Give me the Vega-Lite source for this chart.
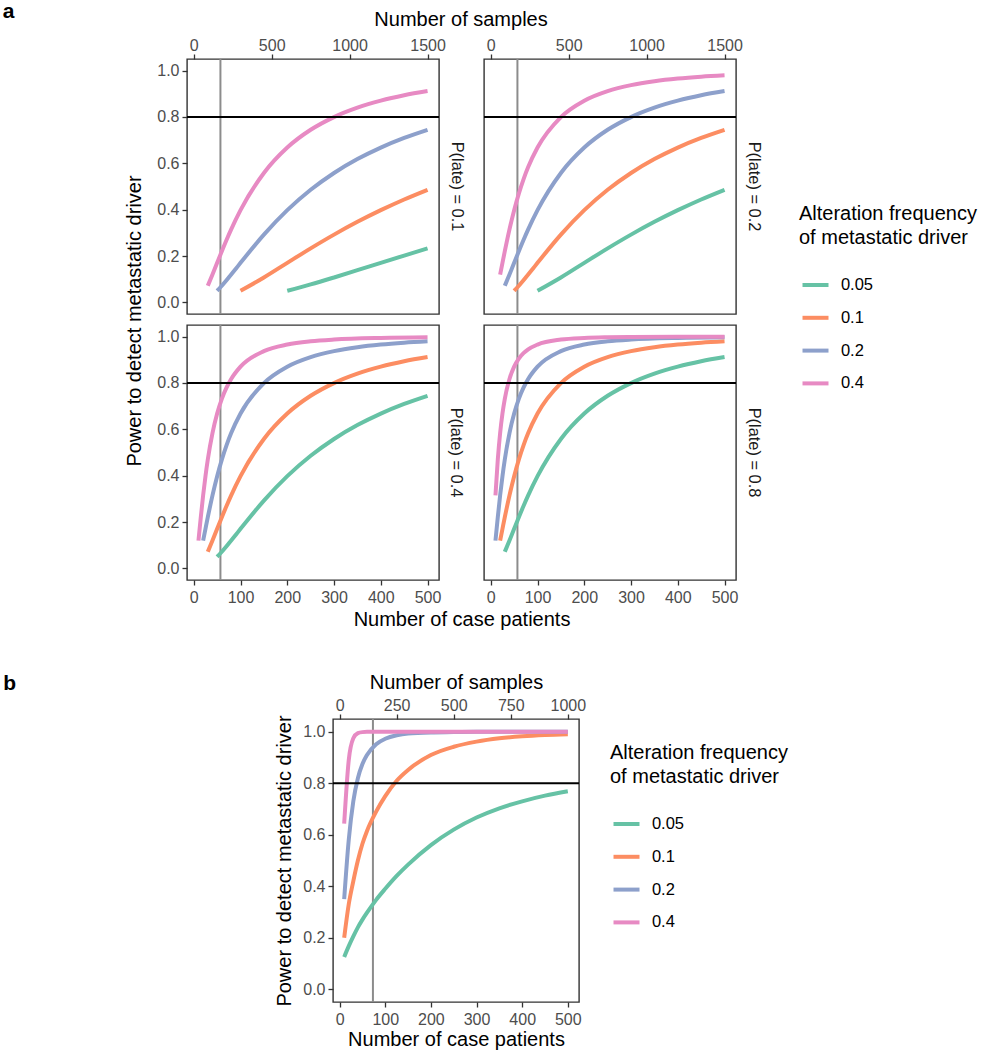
{
 "$schema": "https://vega.github.io/schema/vega-lite/v6.json",
 "background": "white",
 "padding": {"left": 2, "top": 0, "right": 10, "bottom": 2},
 "config": {
  "font": "Liberation Sans",
  "view": {"stroke": "#333333", "strokeWidth": 1.4},
  "axis": {"domain": false, "grid": false, "tickColor": "#333333", "tickWidth": 1.3, "tickSize": 5, "labelFontSize": 16, "labelColor": "#4d4d4d", "labelFont": "Liberation Sans", "labelFlush": false, "labelOverlap": false, "labelBound": false, "titleFont": "Liberation Sans", "titleFontSize": 20, "titleFontWeight": "normal", "titleColor": "#000000"},
  "axisTop": {"labelPadding": 1},
  "axisBottom": {"labelPadding": 4},
  "axisLeft": {"labelPadding": 3},
  "legend": {"titleFont": "Liberation Sans", "titleFontSize": 20, "titleFontWeight": "normal", "titleColor": "#000000", "titleLineHeight": 24, "titlePadding": 22, "labelFont": "Liberation Sans", "labelFontSize": 16.5, "labelColor": "#000000", "symbolType": "stroke", "symbolStrokeWidth": 4, "symbolSize": 676, "rowPadding": 8.8, "labelOffset": 10.4, "symbolOffset": 1.5},
  "title": {"font": "Liberation Sans", "color": "#000000", "fontWeight": "normal"},
  "line": {"strokeWidth": 4, "interpolate": "monotone", "strokeCap": "butt"}
 },
 "datasets": {
  "curves": [
   {"panel":"a0.1","freq":"0.05","n":200,"power":0.05},{"panel":"a0.1","freq":"0.05","n":250,"power":0.0775},{"panel":"a0.1","freq":"0.05","n":300,"power":0.1076},{"panel":"a0.1","freq":"0.05","n":350,"power":0.1389},{"panel":"a0.1","freq":"0.05","n":400,"power":0.1706},{"panel":"a0.1","freq":"0.05","n":450,"power":0.2021},{"panel":"a0.1","freq":"0.05","n":500,"power":0.2331},
   {"panel":"a0.1","freq":"0.1","n":100,"power":0.05},{"panel":"a0.1","freq":"0.1","n":150,"power":0.1076},{"panel":"a0.1","freq":"0.1","n":200,"power":0.1706},{"panel":"a0.1","freq":"0.1","n":250,"power":0.2331},{"panel":"a0.1","freq":"0.1","n":300,"power":0.2924},{"panel":"a0.1","freq":"0.1","n":350,"power":0.3475},{"panel":"a0.1","freq":"0.1","n":400,"power":0.3979},{"panel":"a0.1","freq":"0.1","n":450,"power":0.444},{"panel":"a0.1","freq":"0.1","n":500,"power":0.4858},
   {"panel":"a0.1","freq":"0.2","n":50,"power":0.05},{"panel":"a0.1","freq":"0.2","n":60,"power":0.0718},{"panel":"a0.1","freq":"0.2","n":70,"power":0.0954},{"panel":"a0.1","freq":"0.2","n":80,"power":0.12},{"panel":"a0.1","freq":"0.2","n":90,"power":0.1452},{"panel":"a0.1","freq":"0.2","n":100,"power":0.1706},{"panel":"a0.1","freq":"0.2","n":150,"power":0.2924},{"panel":"a0.1","freq":"0.2","n":200,"power":0.3979},{"panel":"a0.1","freq":"0.2","n":250,"power":0.4858},{"panel":"a0.1","freq":"0.2","n":300,"power":0.5584},{"panel":"a0.1","freq":"0.2","n":350,"power":0.6183},{"panel":"a0.1","freq":"0.2","n":400,"power":0.668},{"panel":"a0.1","freq":"0.2","n":450,"power":0.7096},{"panel":"a0.1","freq":"0.2","n":500,"power":0.7446},
   {"panel":"a0.1","freq":"0.4","n":30,"power":0.0718},{"panel":"a0.1","freq":"0.4","n":40,"power":0.12},{"panel":"a0.1","freq":"0.4","n":50,"power":0.1706},{"panel":"a0.1","freq":"0.4","n":60,"power":0.2208},{"panel":"a0.1","freq":"0.4","n":70,"power":0.2691},{"panel":"a0.1","freq":"0.4","n":80,"power":0.315},{"panel":"a0.1","freq":"0.4","n":100,"power":0.3979},{"panel":"a0.1","freq":"0.4","n":150,"power":0.5584},{"panel":"a0.1","freq":"0.4","n":200,"power":0.668},{"panel":"a0.1","freq":"0.4","n":250,"power":0.7446},{"panel":"a0.1","freq":"0.4","n":300,"power":0.7995},{"panel":"a0.1","freq":"0.4","n":350,"power":0.8399},{"panel":"a0.1","freq":"0.4","n":400,"power":0.8703},{"panel":"a0.1","freq":"0.4","n":450,"power":0.8935},{"panel":"a0.1","freq":"0.4","n":500,"power":0.9116},

   {"panel":"a0.2","freq":"0.05","n":100,"power":0.05},{"panel":"a0.2","freq":"0.05","n":150,"power":0.1076},{"panel":"a0.2","freq":"0.05","n":200,"power":0.1706},{"panel":"a0.2","freq":"0.05","n":250,"power":0.2331},{"panel":"a0.2","freq":"0.05","n":300,"power":0.2924},{"panel":"a0.2","freq":"0.05","n":350,"power":0.3475},{"panel":"a0.2","freq":"0.05","n":400,"power":0.3979},{"panel":"a0.2","freq":"0.05","n":450,"power":0.444},{"panel":"a0.2","freq":"0.05","n":500,"power":0.4858},
   {"panel":"a0.2","freq":"0.1","n":50,"power":0.05},{"panel":"a0.2","freq":"0.1","n":60,"power":0.0718},{"panel":"a0.2","freq":"0.1","n":70,"power":0.0954},{"panel":"a0.2","freq":"0.1","n":80,"power":0.12},{"panel":"a0.2","freq":"0.1","n":90,"power":0.1452},{"panel":"a0.2","freq":"0.1","n":100,"power":0.1706},{"panel":"a0.2","freq":"0.1","n":150,"power":0.2924},{"panel":"a0.2","freq":"0.1","n":200,"power":0.3979},{"panel":"a0.2","freq":"0.1","n":250,"power":0.4858},{"panel":"a0.2","freq":"0.1","n":300,"power":0.5584},{"panel":"a0.2","freq":"0.1","n":350,"power":0.6183},{"panel":"a0.2","freq":"0.1","n":400,"power":0.668},{"panel":"a0.2","freq":"0.1","n":450,"power":0.7096},{"panel":"a0.2","freq":"0.1","n":500,"power":0.7446},
   {"panel":"a0.2","freq":"0.2","n":30,"power":0.0718},{"panel":"a0.2","freq":"0.2","n":40,"power":0.12},{"panel":"a0.2","freq":"0.2","n":50,"power":0.1706},{"panel":"a0.2","freq":"0.2","n":60,"power":0.2208},{"panel":"a0.2","freq":"0.2","n":70,"power":0.2691},{"panel":"a0.2","freq":"0.2","n":80,"power":0.315},{"panel":"a0.2","freq":"0.2","n":100,"power":0.3979},{"panel":"a0.2","freq":"0.2","n":150,"power":0.5584},{"panel":"a0.2","freq":"0.2","n":200,"power":0.668},{"panel":"a0.2","freq":"0.2","n":250,"power":0.7446},{"panel":"a0.2","freq":"0.2","n":300,"power":0.7995},{"panel":"a0.2","freq":"0.2","n":350,"power":0.8399},{"panel":"a0.2","freq":"0.2","n":400,"power":0.8703},{"panel":"a0.2","freq":"0.2","n":450,"power":0.8935},{"panel":"a0.2","freq":"0.2","n":500,"power":0.9116},
   {"panel":"a0.2","freq":"0.4","n":20,"power":0.12},{"panel":"a0.2","freq":"0.4","n":25,"power":0.1706},{"panel":"a0.2","freq":"0.4","n":30,"power":0.2208},{"panel":"a0.2","freq":"0.4","n":40,"power":0.315},{"panel":"a0.2","freq":"0.4","n":50,"power":0.3979},{"panel":"a0.2","freq":"0.4","n":60,"power":0.4696},{"panel":"a0.2","freq":"0.4","n":70,"power":0.531},{"panel":"a0.2","freq":"0.4","n":80,"power":0.5837},{"panel":"a0.2","freq":"0.4","n":100,"power":0.668},{"panel":"a0.2","freq":"0.4","n":150,"power":0.7995},{"panel":"a0.2","freq":"0.4","n":200,"power":0.8703},{"panel":"a0.2","freq":"0.4","n":250,"power":0.9116},{"panel":"a0.2","freq":"0.4","n":300,"power":0.9374},{"panel":"a0.2","freq":"0.4","n":350,"power":0.9542},{"panel":"a0.2","freq":"0.4","n":400,"power":0.9657},{"panel":"a0.2","freq":"0.4","n":450,"power":0.9737},{"panel":"a0.2","freq":"0.4","n":500,"power":0.9795},

   {"panel":"a0.4","freq":"0.05","n":50,"power":0.05},{"panel":"a0.4","freq":"0.05","n":60,"power":0.0718},{"panel":"a0.4","freq":"0.05","n":70,"power":0.0954},{"panel":"a0.4","freq":"0.05","n":80,"power":0.12},{"panel":"a0.4","freq":"0.05","n":90,"power":0.1452},{"panel":"a0.4","freq":"0.05","n":100,"power":0.1706},{"panel":"a0.4","freq":"0.05","n":150,"power":0.2924},{"panel":"a0.4","freq":"0.05","n":200,"power":0.3979},{"panel":"a0.4","freq":"0.05","n":250,"power":0.4858},{"panel":"a0.4","freq":"0.05","n":300,"power":0.5584},{"panel":"a0.4","freq":"0.05","n":350,"power":0.6183},{"panel":"a0.4","freq":"0.05","n":400,"power":0.668},{"panel":"a0.4","freq":"0.05","n":450,"power":0.7096},{"panel":"a0.4","freq":"0.05","n":500,"power":0.7446},
   {"panel":"a0.4","freq":"0.1","n":30,"power":0.0718},{"panel":"a0.4","freq":"0.1","n":40,"power":0.12},{"panel":"a0.4","freq":"0.1","n":50,"power":0.1706},{"panel":"a0.4","freq":"0.1","n":60,"power":0.2208},{"panel":"a0.4","freq":"0.1","n":70,"power":0.2691},{"panel":"a0.4","freq":"0.1","n":80,"power":0.315},{"panel":"a0.4","freq":"0.1","n":100,"power":0.3979},{"panel":"a0.4","freq":"0.1","n":150,"power":0.5584},{"panel":"a0.4","freq":"0.1","n":200,"power":0.668},{"panel":"a0.4","freq":"0.1","n":250,"power":0.7446},{"panel":"a0.4","freq":"0.1","n":300,"power":0.7995},{"panel":"a0.4","freq":"0.1","n":350,"power":0.8399},{"panel":"a0.4","freq":"0.1","n":400,"power":0.8703},{"panel":"a0.4","freq":"0.1","n":450,"power":0.8935},{"panel":"a0.4","freq":"0.1","n":500,"power":0.9116},
   {"panel":"a0.4","freq":"0.2","n":20,"power":0.12},{"panel":"a0.4","freq":"0.2","n":25,"power":0.1706},{"panel":"a0.4","freq":"0.2","n":30,"power":0.2208},{"panel":"a0.4","freq":"0.2","n":40,"power":0.315},{"panel":"a0.4","freq":"0.2","n":50,"power":0.3979},{"panel":"a0.4","freq":"0.2","n":60,"power":0.4696},{"panel":"a0.4","freq":"0.2","n":70,"power":0.531},{"panel":"a0.4","freq":"0.2","n":80,"power":0.5837},{"panel":"a0.4","freq":"0.2","n":100,"power":0.668},{"panel":"a0.4","freq":"0.2","n":150,"power":0.7995},{"panel":"a0.4","freq":"0.2","n":200,"power":0.8703},{"panel":"a0.4","freq":"0.2","n":250,"power":0.9116},{"panel":"a0.4","freq":"0.2","n":300,"power":0.9374},{"panel":"a0.4","freq":"0.2","n":350,"power":0.9542},{"panel":"a0.4","freq":"0.2","n":400,"power":0.9657},{"panel":"a0.4","freq":"0.2","n":450,"power":0.9737},{"panel":"a0.4","freq":"0.2","n":500,"power":0.9795},
   {"panel":"a0.4","freq":"0.4","n":10,"power":0.12},{"panel":"a0.4","freq":"0.4","n":15,"power":0.2208},{"panel":"a0.4","freq":"0.4","n":20,"power":0.315},{"panel":"a0.4","freq":"0.4","n":25,"power":0.3979},{"panel":"a0.4","freq":"0.4","n":30,"power":0.4696},{"panel":"a0.4","freq":"0.4","n":40,"power":0.5837},{"panel":"a0.4","freq":"0.4","n":50,"power":0.668},{"panel":"a0.4","freq":"0.4","n":60,"power":0.7313},{"panel":"a0.4","freq":"0.4","n":70,"power":0.7796},{"panel":"a0.4","freq":"0.4","n":80,"power":0.8171},{"panel":"a0.4","freq":"0.4","n":100,"power":0.8703},{"panel":"a0.4","freq":"0.4","n":150,"power":0.9374},{"panel":"a0.4","freq":"0.4","n":200,"power":0.9657},{"panel":"a0.4","freq":"0.4","n":250,"power":0.9795},{"panel":"a0.4","freq":"0.4","n":300,"power":0.987},{"panel":"a0.4","freq":"0.4","n":400,"power":0.994},{"panel":"a0.4","freq":"0.4","n":500,"power":0.9969},

   {"panel":"a0.8","freq":"0.05","n":30,"power":0.0718},{"panel":"a0.8","freq":"0.05","n":40,"power":0.12},{"panel":"a0.8","freq":"0.05","n":50,"power":0.1706},{"panel":"a0.8","freq":"0.05","n":60,"power":0.2208},{"panel":"a0.8","freq":"0.05","n":70,"power":0.2691},{"panel":"a0.8","freq":"0.05","n":80,"power":0.315},{"panel":"a0.8","freq":"0.05","n":100,"power":0.3979},{"panel":"a0.8","freq":"0.05","n":150,"power":0.5584},{"panel":"a0.8","freq":"0.05","n":200,"power":0.668},{"panel":"a0.8","freq":"0.05","n":250,"power":0.7446},{"panel":"a0.8","freq":"0.05","n":300,"power":0.7995},{"panel":"a0.8","freq":"0.05","n":350,"power":0.8399},{"panel":"a0.8","freq":"0.05","n":400,"power":0.8703},{"panel":"a0.8","freq":"0.05","n":450,"power":0.8935},{"panel":"a0.8","freq":"0.05","n":500,"power":0.9116},
   {"panel":"a0.8","freq":"0.1","n":20,"power":0.12},{"panel":"a0.8","freq":"0.1","n":25,"power":0.1706},{"panel":"a0.8","freq":"0.1","n":30,"power":0.2208},{"panel":"a0.8","freq":"0.1","n":40,"power":0.315},{"panel":"a0.8","freq":"0.1","n":50,"power":0.3979},{"panel":"a0.8","freq":"0.1","n":60,"power":0.4696},{"panel":"a0.8","freq":"0.1","n":70,"power":0.531},{"panel":"a0.8","freq":"0.1","n":80,"power":0.5837},{"panel":"a0.8","freq":"0.1","n":100,"power":0.668},{"panel":"a0.8","freq":"0.1","n":150,"power":0.7995},{"panel":"a0.8","freq":"0.1","n":200,"power":0.8703},{"panel":"a0.8","freq":"0.1","n":250,"power":0.9116},{"panel":"a0.8","freq":"0.1","n":300,"power":0.9374},{"panel":"a0.8","freq":"0.1","n":350,"power":0.9542},{"panel":"a0.8","freq":"0.1","n":400,"power":0.9657},{"panel":"a0.8","freq":"0.1","n":450,"power":0.9737},{"panel":"a0.8","freq":"0.1","n":500,"power":0.9795},
   {"panel":"a0.8","freq":"0.2","n":10,"power":0.12},{"panel":"a0.8","freq":"0.2","n":15,"power":0.2208},{"panel":"a0.8","freq":"0.2","n":20,"power":0.315},{"panel":"a0.8","freq":"0.2","n":25,"power":0.3979},{"panel":"a0.8","freq":"0.2","n":30,"power":0.4696},{"panel":"a0.8","freq":"0.2","n":40,"power":0.5837},{"panel":"a0.8","freq":"0.2","n":50,"power":0.668},{"panel":"a0.8","freq":"0.2","n":60,"power":0.7313},{"panel":"a0.8","freq":"0.2","n":70,"power":0.7796},{"panel":"a0.8","freq":"0.2","n":80,"power":0.8171},{"panel":"a0.8","freq":"0.2","n":100,"power":0.8703},{"panel":"a0.8","freq":"0.2","n":150,"power":0.9374},{"panel":"a0.8","freq":"0.2","n":200,"power":0.9657},{"panel":"a0.8","freq":"0.2","n":250,"power":0.9795},{"panel":"a0.8","freq":"0.2","n":300,"power":0.987},{"panel":"a0.8","freq":"0.2","n":400,"power":0.994},{"panel":"a0.8","freq":"0.2","n":500,"power":0.9969},
   {"panel":"a0.8","freq":"0.4","n":10,"power":0.315},{"panel":"a0.8","freq":"0.4","n":15,"power":0.4696},{"panel":"a0.8","freq":"0.4","n":20,"power":0.5837},{"panel":"a0.8","freq":"0.4","n":25,"power":0.668},{"panel":"a0.8","freq":"0.4","n":30,"power":0.7313},{"panel":"a0.8","freq":"0.4","n":40,"power":0.8171},{"panel":"a0.8","freq":"0.4","n":50,"power":0.8703},{"panel":"a0.8","freq":"0.4","n":60,"power":0.9049},{"panel":"a0.8","freq":"0.4","n":70,"power":0.9284},{"panel":"a0.8","freq":"0.4","n":80,"power":0.9449},{"panel":"a0.8","freq":"0.4","n":100,"power":0.9657},{"panel":"a0.8","freq":"0.4","n":150,"power":0.987},{"panel":"a0.8","freq":"0.4","n":200,"power":0.994},{"panel":"a0.8","freq":"0.4","n":250,"power":0.9969},{"panel":"a0.8","freq":"0.4","n":300,"power":0.9982},{"panel":"a0.8","freq":"0.4","n":400,"power":0.9993},{"panel":"a0.8","freq":"0.4","n":500,"power":0.9997},

   {"panel":"b","freq":"0.05","n":10,"power":0.125},{"panel":"b","freq":"0.05","n":20,"power":0.167},{"panel":"b","freq":"0.05","n":30,"power":0.205},{"panel":"b","freq":"0.05","n":40,"power":0.24},{"panel":"b","freq":"0.05","n":50,"power":0.27},{"panel":"b","freq":"0.05","n":60,"power":0.297},{"panel":"b","freq":"0.05","n":80,"power":0.347},{"panel":"b","freq":"0.05","n":100,"power":0.39},{"panel":"b","freq":"0.05","n":125,"power":0.44},{"panel":"b","freq":"0.05","n":150,"power":0.484},{"panel":"b","freq":"0.05","n":200,"power":0.56},{"panel":"b","freq":"0.05","n":250,"power":0.62},{"panel":"b","freq":"0.05","n":300,"power":0.667},{"panel":"b","freq":"0.05","n":350,"power":0.703},{"panel":"b","freq":"0.05","n":400,"power":0.73},{"panel":"b","freq":"0.05","n":450,"power":0.752},{"panel":"b","freq":"0.05","n":500,"power":0.769},
   {"panel":"b","freq":"0.1","n":10,"power":0.2},{"panel":"b","freq":"0.1","n":20,"power":0.33},{"panel":"b","freq":"0.1","n":30,"power":0.42},{"panel":"b","freq":"0.1","n":40,"power":0.5},{"panel":"b","freq":"0.1","n":50,"power":0.565},{"panel":"b","freq":"0.1","n":60,"power":0.615},{"panel":"b","freq":"0.1","n":80,"power":0.69},{"panel":"b","freq":"0.1","n":100,"power":0.75},{"panel":"b","freq":"0.1","n":125,"power":0.81},{"panel":"b","freq":"0.1","n":150,"power":0.852},{"panel":"b","freq":"0.1","n":200,"power":0.91},{"panel":"b","freq":"0.1","n":250,"power":0.942},{"panel":"b","freq":"0.1","n":300,"power":0.962},{"panel":"b","freq":"0.1","n":350,"power":0.975},{"panel":"b","freq":"0.1","n":400,"power":0.983},{"panel":"b","freq":"0.1","n":450,"power":0.988},{"panel":"b","freq":"0.1","n":500,"power":0.991},
   {"panel":"b","freq":"0.2","n":10,"power":0.35},{"panel":"b","freq":"0.2","n":20,"power":0.58},{"panel":"b","freq":"0.2","n":30,"power":0.73},{"panel":"b","freq":"0.2","n":40,"power":0.82},{"panel":"b","freq":"0.2","n":50,"power":0.875},{"panel":"b","freq":"0.2","n":60,"power":0.91},{"panel":"b","freq":"0.2","n":80,"power":0.952},{"panel":"b","freq":"0.2","n":100,"power":0.973},{"panel":"b","freq":"0.2","n":125,"power":0.987},{"panel":"b","freq":"0.2","n":150,"power":0.994},{"panel":"b","freq":"0.2","n":200,"power":0.998},{"panel":"b","freq":"0.2","n":250,"power":0.999},{"panel":"b","freq":"0.2","n":300,"power":1.0},{"panel":"b","freq":"0.2","n":400,"power":1.0},{"panel":"b","freq":"0.2","n":500,"power":1.0},
   {"panel":"b","freq":"0.4","n":10,"power":0.643},{"panel":"b","freq":"0.4","n":20,"power":0.89},{"panel":"b","freq":"0.4","n":30,"power":0.975},{"panel":"b","freq":"0.4","n":40,"power":0.995},{"panel":"b","freq":"0.4","n":50,"power":0.999},{"panel":"b","freq":"0.4","n":60,"power":1.0},{"panel":"b","freq":"0.4","n":100,"power":1.0},{"panel":"b","freq":"0.4","n":200,"power":1.0},{"panel":"b","freq":"0.4","n":300,"power":1.0},{"panel":"b","freq":"0.4","n":400,"power":1.0},{"panel":"b","freq":"0.4","n":500,"power":1.0}
  ]
 },
 "resolve": {"legend": {"color": "independent"}},
 "spacing": 41,
 "vconcat": [
  {
   "title": {"text": "a", "orient": "left", "anchor": "end", "angle": 0, "baseline": "alphabetic", "dy": 7.4, "offset": 99, "fontSize": 21, "fontWeight": "bold", "color": "#000000"},
   "vconcat": [
    {
     "title": {"text": "Number of case patients", "orient": "bottom", "anchor": "middle", "offset": 4, "dx": 18, "fontSize": 20},
     "vconcat": [
      {
       "title": {"text": "Number of samples", "orient": "top", "anchor": "middle", "offset": 6, "dx": 17, "fontSize": 20},
       "spacing": 16,
       "hconcat": [
        {
         "title": {"text": "Power to detect metastatic driver", "orient": "left", "anchor": "middle", "offset": 11, "fontSize": 20},
         "spacing": 7,
         "vconcat": [
          {
           "width": 252, "height": 255,
           "title": {"text": "P(late) = 0.1", "orient": "right", "anchor": "middle", "frame": "group", "offset": 3, "fontSize": 16.4, "color": "#1a1a1a"},
           "layer": [
            {"data": {"values": [{}]}, "mark": {"type": "rule", "color": "#8c8c8c", "strokeWidth": 2}, "encoding": {"x": {"datum": 57, "type": "quantitative"}}},
            {"data": {"name": "curves"}, "transform": [{"filter": "datum.panel === 'a0.1'"}], "mark": "line",
             "encoding": {
              "x": {"field": "n", "type": "quantitative", "scale": {"domain": [-14.5, 524.5], "nice": false, "zero": false}, "axis": {"orient": "top", "values": [0, 166.6667, 333.3333, 500], "labelExpr": "format(datum.value * 3, 'd')", "title": null}},
              "y": {"field": "power", "type": "quantitative", "scale": {"domain": [-0.05, 1.05], "nice": false, "zero": false}, "axis": {"values": [0, 0.2, 0.4, 0.6, 0.8, 1], "format": ".1f", "title": null}},
              "color": {"field": "freq", "type": "nominal", "scale": {"domain": ["0.05", "0.1", "0.2", "0.4"], "range": ["#66c2a5", "#fc8d62", "#8da0cb", "#e78ac3"]}, "legend": {"title": ["Alteration frequency", "of metastatic driver"], "orient": "none", "legendX": 612, "legendY": 145}}
             }},
            {"data": {"values": [{}]}, "mark": {"type": "rule", "color": "#000000", "strokeWidth": 2}, "encoding": {"y": {"datum": 0.8, "type": "quantitative"}}}
           ]
          },
          {
           "width": 252, "height": 255,
           "title": {"text": "P(late) = 0.4", "orient": "right", "anchor": "middle", "frame": "group", "offset": 7, "fontSize": 16.4, "color": "#1a1a1a"},
           "layer": [
            {"data": {"values": [{}]}, "mark": {"type": "rule", "color": "#8c8c8c", "strokeWidth": 2}, "encoding": {"x": {"datum": 57, "type": "quantitative"}}},
            {"data": {"name": "curves"}, "transform": [{"filter": "datum.panel === 'a0.4'"}], "mark": "line",
             "encoding": {
              "x": {"field": "n", "type": "quantitative", "scale": {"domain": [-14.5, 524.5], "nice": false, "zero": false}, "axis": {"orient": "bottom", "values": [0, 100, 200, 300, 400, 500], "format": "d", "title": null}},
              "y": {"field": "power", "type": "quantitative", "scale": {"domain": [-0.05, 1.05], "nice": false, "zero": false}, "axis": {"values": [0, 0.2, 0.4, 0.6, 0.8, 1], "format": ".1f", "title": null}},
              "color": {"field": "freq", "type": "nominal", "scale": {"domain": ["0.05", "0.1", "0.2", "0.4"], "range": ["#66c2a5", "#fc8d62", "#8da0cb", "#e78ac3"]}, "legend": null}
             }},
            {"data": {"values": [{}]}, "mark": {"type": "rule", "color": "#000000", "strokeWidth": 2}, "encoding": {"y": {"datum": 0.8, "type": "quantitative"}}}
           ]
          }
         ]
        },
        {
         "spacing": 7,
         "vconcat": [
          {
           "width": 252, "height": 255,
           "title": {"text": "P(late) = 0.2", "orient": "right", "anchor": "middle", "frame": "group", "offset": 3, "fontSize": 16.4, "color": "#1a1a1a"},
           "layer": [
            {"data": {"values": [{}]}, "mark": {"type": "rule", "color": "#8c8c8c", "strokeWidth": 2}, "encoding": {"x": {"datum": 57, "type": "quantitative"}}},
            {"data": {"name": "curves"}, "transform": [{"filter": "datum.panel === 'a0.2'"}], "mark": "line",
             "encoding": {
              "x": {"field": "n", "type": "quantitative", "scale": {"domain": [-14.5, 524.5], "nice": false, "zero": false}, "axis": {"orient": "top", "values": [0, 166.6667, 333.3333, 500], "labelExpr": "format(datum.value * 3, 'd')", "title": null}},
              "y": {"field": "power", "type": "quantitative", "scale": {"domain": [-0.05, 1.05], "nice": false, "zero": false}, "axis": null},
              "color": {"field": "freq", "type": "nominal", "scale": {"domain": ["0.05", "0.1", "0.2", "0.4"], "range": ["#66c2a5", "#fc8d62", "#8da0cb", "#e78ac3"]}, "legend": null}
             }},
            {"data": {"values": [{}]}, "mark": {"type": "rule", "color": "#000000", "strokeWidth": 2}, "encoding": {"y": {"datum": 0.8, "type": "quantitative", "axis": null}}}
           ]
          },
          {
           "width": 252, "height": 255,
           "title": {"text": "P(late) = 0.8", "orient": "right", "anchor": "middle", "frame": "group", "offset": 8, "fontSize": 16.4, "color": "#1a1a1a"},
           "layer": [
            {"data": {"values": [{}]}, "mark": {"type": "rule", "color": "#8c8c8c", "strokeWidth": 2}, "encoding": {"x": {"datum": 57, "type": "quantitative"}}},
            {"data": {"name": "curves"}, "transform": [{"filter": "datum.panel === 'a0.8'"}], "mark": "line",
             "encoding": {
              "x": {"field": "n", "type": "quantitative", "scale": {"domain": [-14.5, 524.5], "nice": false, "zero": false}, "axis": {"orient": "bottom", "values": [0, 100, 200, 300, 400, 500], "format": "d", "title": null}},
              "y": {"field": "power", "type": "quantitative", "scale": {"domain": [-0.05, 1.05], "nice": false, "zero": false}, "axis": null},
              "color": {"field": "freq", "type": "nominal", "scale": {"domain": ["0.05", "0.1", "0.2", "0.4"], "range": ["#66c2a5", "#fc8d62", "#8da0cb", "#e78ac3"]}, "legend": null}
             }},
            {"data": {"values": [{}]}, "mark": {"type": "rule", "color": "#000000", "strokeWidth": 2}, "encoding": {"y": {"datum": 0.8, "type": "quantitative", "axis": null}}}
           ]
          }
         ]
        }
       ]
      }
     ]
    }
   ]
  },
  {
   "title": {"text": "b", "orient": "left", "anchor": "end", "angle": 0, "baseline": "alphabetic", "dy": 18.8, "offset": 158, "fontSize": 21, "fontWeight": "bold", "color": "#000000"},
   "spacing": 0,
   "resolve": {"legend": {"color": "independent"}},
   "hconcat": [
    {"width": 87, "height": 1, "view": {"stroke": null}, "data": {"values": []}, "mark": "point", "encoding": {}},
    {
     "width": 246, "height": 283,
     "resolve": {"axis": {"x": "independent"}},
     "layer": [
      {"data": {"values": [{}]}, "mark": {"type": "rule", "color": "#8c8c8c", "strokeWidth": 2}, "encoding": {"x": {"datum": 73, "type": "quantitative", "axis": {"orient": "top", "values": [0, 125, 250, 375, 500], "labelExpr": "format(datum.value * 2, 'd')", "title": "Number of samples", "titlePadding": 5}}}},
      {"data": {"name": "curves"}, "transform": [{"filter": "datum.panel === 'b'"}], "mark": "line",
       "encoding": {
        "x": {"field": "n", "type": "quantitative", "scale": {"domain": [-14.5, 524.5], "nice": false, "zero": false}, "axis": {"orient": "bottom", "values": [0, 100, 200, 300, 400, 500], "format": "d", "title": "Number of case patients", "titlePadding": 2.5}},
        "y": {"field": "power", "type": "quantitative", "scale": {"domain": [-0.05, 1.05], "nice": false, "zero": false}, "axis": {"values": [0, 0.2, 0.4, 0.6, 0.8, 1], "format": ".1f", "title": "Power to detect metastatic driver", "titlePadding": 8}},
        "color": {"field": "freq", "type": "nominal", "scale": {"domain": ["0.05", "0.1", "0.2", "0.4"], "range": ["#66c2a5", "#fc8d62", "#8da0cb", "#e78ac3"]}, "legend": {"title": ["Alteration frequency", "of metastatic driver"], "orient": "none", "legendX": 277, "legendY": 24}}
       }},
      {"data": {"values": [{}]}, "mark": {"type": "rule", "color": "#000000", "strokeWidth": 2}, "encoding": {"y": {"datum": 0.8, "type": "quantitative"}}}
     ]
    }
   ]
  }
 ]
}
